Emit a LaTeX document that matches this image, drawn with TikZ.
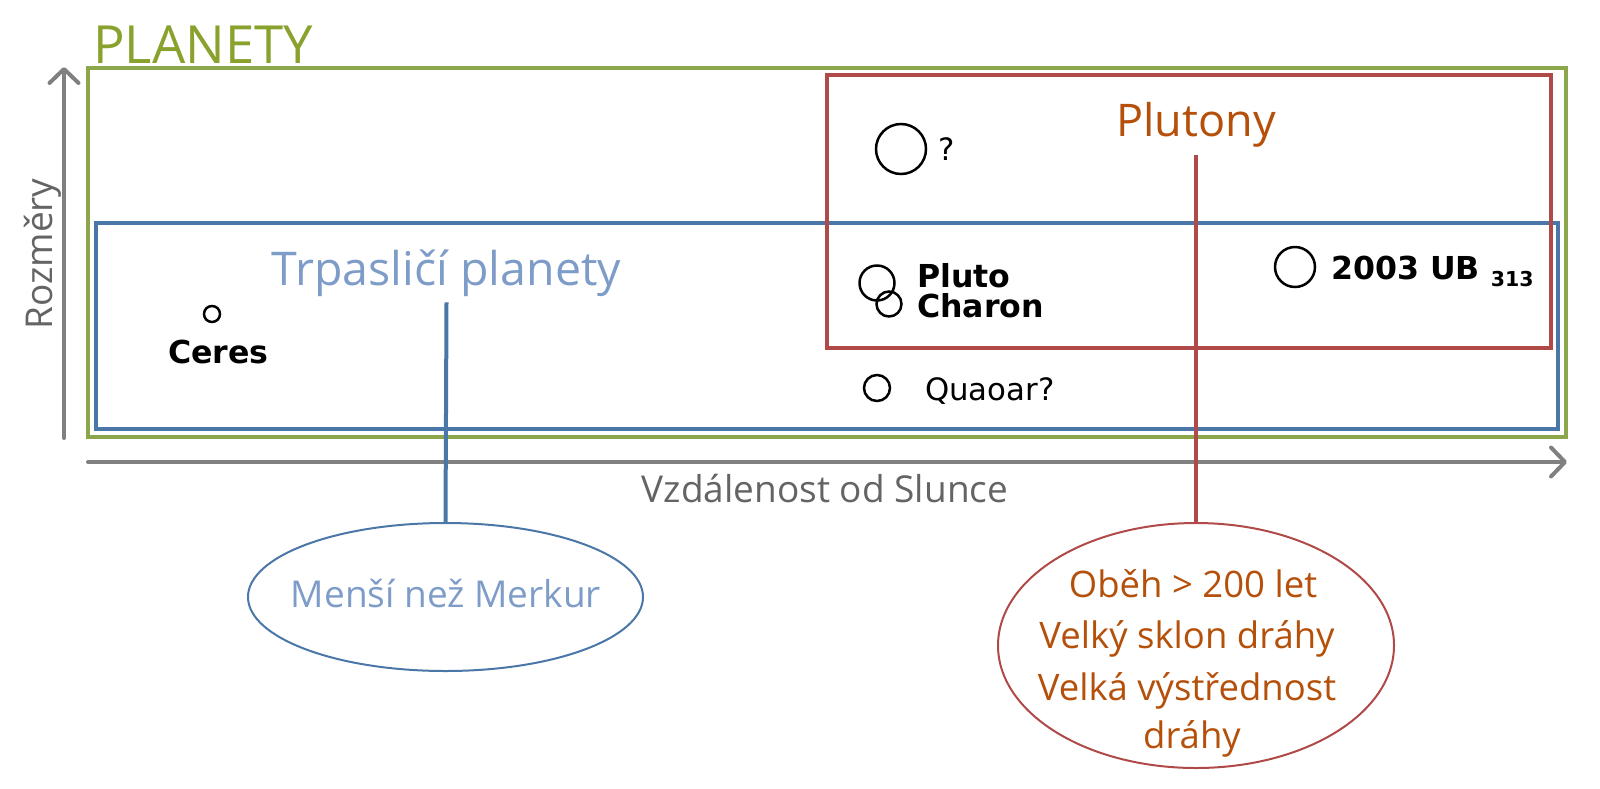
\documentclass[tikz,border=0pt]{standalone}
\usepackage{fontspec}
\usetikzlibrary{arrows.meta,shapes.geometric}
\newfontfamily\os{Open Sans}
\newfontfamily\dvs{DejaVu Sans}
\definecolor{cgreen}{RGB}{140,166,76}
\definecolor{cgreentxt}{RGB}{137,162,45}
\definecolor{cblue}{RGB}{74,118,168}
\definecolor{cbluetxt}{RGB}{126,156,200}
\definecolor{cred}{RGB}{176,74,72}
\definecolor{corange}{RGB}{181,80,10}
\definecolor{caxis}{RGB}{128,128,128}
\definecolor{caxistxt}{RGB}{100,100,100}
\tikzset{
  region/.style={draw, line width=4pt, inner sep=0pt, outer sep=0pt},
  body/.style={circle, draw=black, line width=2.5pt, inner sep=0pt, outer sep=0pt},
  oval/.style={ellipse, draw, line width=2pt, inner sep=0pt, outer sep=0pt},
  conn/.style={line width=4pt},
  axis/.style={draw=caxis, line width=4pt, line cap=round,
    -{Straight Barb[length=14pt,width=29pt,line cap=round,round]}},
  bname/.style={font=\dvs\bfseries\fontsize{31.6}{36}\selectfont, inner sep=0pt, anchor=base west},
  rname/.style={font=\dvs\fontsize{30.8}{36}\selectfont, inner sep=0pt, anchor=base west},
  ostxt/.style={inner sep=0pt, anchor=base}
}
\begin{document}
\begin{tikzpicture}[x=1pt,y=-1pt]
\useasboundingbox (0,0) rectangle (1600,788);
% axes
\coordinate (yfrom) at (64,438);
\coordinate (yto) at (64,67);
\coordinate (xfrom) at (88,462);
\coordinate (xto) at (1567,462);
\draw[axis] (yfrom) -- (yto);
\draw[axis] (xfrom) -- (xto);
\node[ostxt, text=caxistxt, font=\os\fontsize{37}{44}\selectfont, rotate=90] (ylab) at (52,254) {Rozměry};
\node[ostxt, text=caxistxt, font=\os\fontsize{37}{44}\selectfont] (xlab) at (825,502) {Vzdálenost od Slunce};
% regions
\node[region, draw=cgreen, minimum width=1478pt, minimum height=369pt] (planety) at (827,252.5) {};
\node[region, draw=cblue, minimum width=1462pt, minimum height=206pt] (trpbox) at (827,326) {};
\node[region, draw=cred, minimum width=724pt, minimum height=273pt] (plutbox) at (1189,211.5) {};
% titles
\node[inner sep=0pt, anchor=base west, text=cgreentxt, font=\os\fontsize{52.6}{60}\selectfont] (tplanety) at (93,63) {PLANETY};
\node[ostxt, text=cbluetxt, font=\os\fontsize{46.5}{54}\selectfont] (trp) at (446.5,285) {Trpasličí planety};
\node[ostxt, text=corange, font=\os\fontsize{45}{54}\selectfont] (plut) at (1196,136) {Plutony};
% bodies
\node[body, minimum size=50pt] (q) at (901,149) {};
\node[rname] (qlab) at (938,160) {?};
\node[body, minimum size=35pt] (pluto) at (877,283) {};
\node[body, minimum size=25pt] (charon) at (889,304) {};
\node[bname] (plutolab) at (917,287) {Pluto};
\node[bname] (charonlab) at (917,317) {Charon};
\node[body, minimum size=40pt] (ub) at (1295,267) {};
\node[bname] (ublab) at (1331,279) {2003 UB \raisebox{-7pt}{\fontsize{20.5}{24}\selectfont 313}};
\node[body, minimum size=16pt] (ceres) at (212,314) {};
\node[bname] (cereslab) at (168,363) {Ceres};
\node[body, minimum size=26pt] (quaoar) at (877,388) {};
\node[rname] (quaoarlab) at (925,400) {Quaoar?};
% ellipses
\node[oval, draw=cblue, minimum width=395pt, minimum height=148pt] (mensi) at (445.5,597) {};
\node[ostxt, text=cbluetxt, font=\os\fontsize{37}{44}\selectfont] (mensitxt) at (446,607) {Menší než Merkur};
\node[oval, draw=cred, minimum width=396pt, minimum height=245pt] (obeh) at (1196,645.5) {};
\node[ostxt, text=corange, font=\os\fontsize{36.5}{44}\selectfont] (l1) at (1193,597) {Oběh > 200 let};
\node[ostxt, text=corange, font=\os\fontsize{36.5}{44}\selectfont] (l2) at (1187,648) {Velký sklon dráhy};
\node[ostxt, text=corange, font=\os\fontsize{36.5}{44}\selectfont] (l3) at (1187,700) {Velká výstřednost};
\node[ostxt, text=corange, font=\os\fontsize{36.5}{44}\selectfont] (l4) at (1192,748) {dráhy};
% connectors
\draw[conn, draw=cblue] ([yshift=-6pt]trp.south) -- (mensi.north);
\draw[conn, draw=cred] ([yshift=-8pt]plut.south) -- (obeh.north);
\end{tikzpicture}
\end{document}
